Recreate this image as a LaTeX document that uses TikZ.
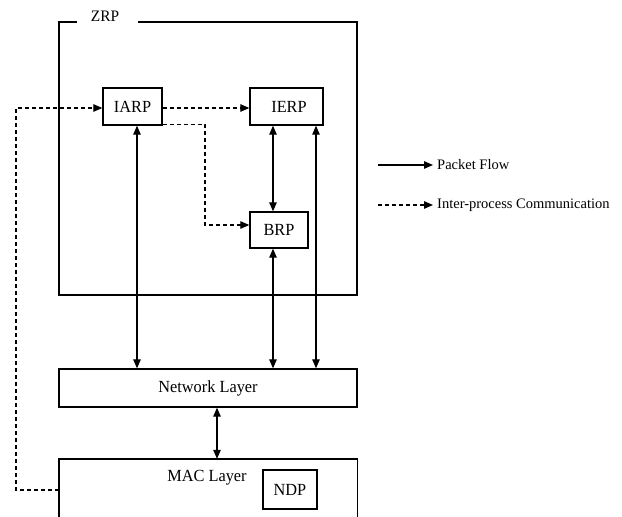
\documentclass[tikz,border=0pt]{standalone}
\usepackage{fontspec}
\setmainfont{Liberation Serif}
\newfontfamily\boxfont{Liberation Serif}[FakeStretch=0.96]
\usetikzlibrary{arrows.meta}
\tikzset{
  lbl/.style={font=\boxfont\fontsize{17}{19}\selectfont, inner sep=0pt},
  legtxt/.style={font=\fontsize{14.5}{16}\selectfont, inner sep=0pt, anchor=west},
  blk/.style={draw, line width=1.4pt, inner sep=0pt, font=\boxfont\fontsize{17}{19}\selectfont},
  frame/.style={line width=1.4pt},
  flow/.style={line width=1.2pt, {Triangle[length=9pt,width=7.5pt]}-{Triangle[length=9pt,width=7.5pt]}},
  flowone/.style={line width=1.2pt, -{Triangle[length=9pt,width=7.5pt]}},
  ipc/.style={line width=1.2pt, dash pattern=on 4pt off 3pt, -{Triangle[length=9pt,width=7.5pt]}}
}
\begin{document}
\begin{tikzpicture}[x=1pt,y=-1pt]
\useasboundingbox (0,0) rectangle (622,517);
\clip (0,0) rectangle (622,517);
% ZRP frame with gap for title
\coordinate (zg1) at (77,22);
\coordinate (zg2) at (138,22);
\draw[frame] (zg1) -- (59,22) -- (59,295) -- (357,295) -- (357,22) -- (zg2);
\node[lbl, font=\boxfont\fontsize{16}{18}\selectfont] (zrp) at (105,16) {ZRP};
% boxes
\node[blk, minimum width=59pt, minimum height=37pt] (iarp) at (132.5,106.5) {IARP};
\node[blk, minimum width=73pt, minimum height=37pt] (ierp) at (286.5,106.5) {\hspace{5pt}IERP};
\node[blk, minimum width=58pt, minimum height=36pt] (brp) at (279,230) {BRP};
\node[blk, minimum width=298pt, minimum height=38pt] (net) at (208,388) {Network Layer};
% MAC layer (open at bottom of picture)
\node[draw=none, minimum width=298pt, minimum height=80pt, inner sep=0pt] (mac) at (208,499) {};
\draw[frame] (mac.south west) -- (mac.north west) -- (mac.north east) -- (mac.south east);
\node[lbl] (mactxt) at (207,478) {MAC Layer};
\node[blk, minimum width=54pt, minimum height=39pt] (ndp) at (290,489.5) {NDP};
% helper x positions
\coordinate (xa) at (137,0);
\coordinate (xb) at (273,0);
\coordinate (xc) at (316,0);
\coordinate (xd) at (217,0);
% packet flows
\draw[flow] (iarp.south -| xa) -- (net.north -| xa);
\draw[flow] (ierp.south -| xb) -- (brp.north -| xb);
\draw[flow] (brp.south -| xb) -- (net.north -| xb);
\draw[flow] (ierp.south -| xc) -- (net.north -| xc);
\draw[flow] (net.south -| xd) -- (mac.north -| xd);
% inter-process communication
\coordinate (ya) at (0,108);
\coordinate (yb) at (0,490);
\coordinate (lx) at (16,0);
\draw[ipc] (mac.west |- yb) -- (lx |- yb) -- (lx |- ya) -- (iarp.west |- ya);
\draw[ipc] (iarp.east |- ya) -- (ierp.west |- ya);
\coordinate (bend) at (205,124.5);
\coordinate (yc) at (0,225);
\draw[ipc] (iarp.south east |- bend) -- (bend) -- (bend |- yc) -- (brp.west |- yc);
% legend
\coordinate (l1a) at (378,165);
\coordinate (l1b) at (433,165);
\coordinate (l2a) at (378,205);
\coordinate (l2b) at (433,205);
\draw[flowone] (l1a) -- (l1b);
\draw[ipc] (l2a) -- (l2b);
\node[legtxt] (leg1) at (437,165) {Packet Flow};
\node[legtxt] (leg2) at (437,205) {Inter-process Communication};
\end{tikzpicture}
\end{document}
